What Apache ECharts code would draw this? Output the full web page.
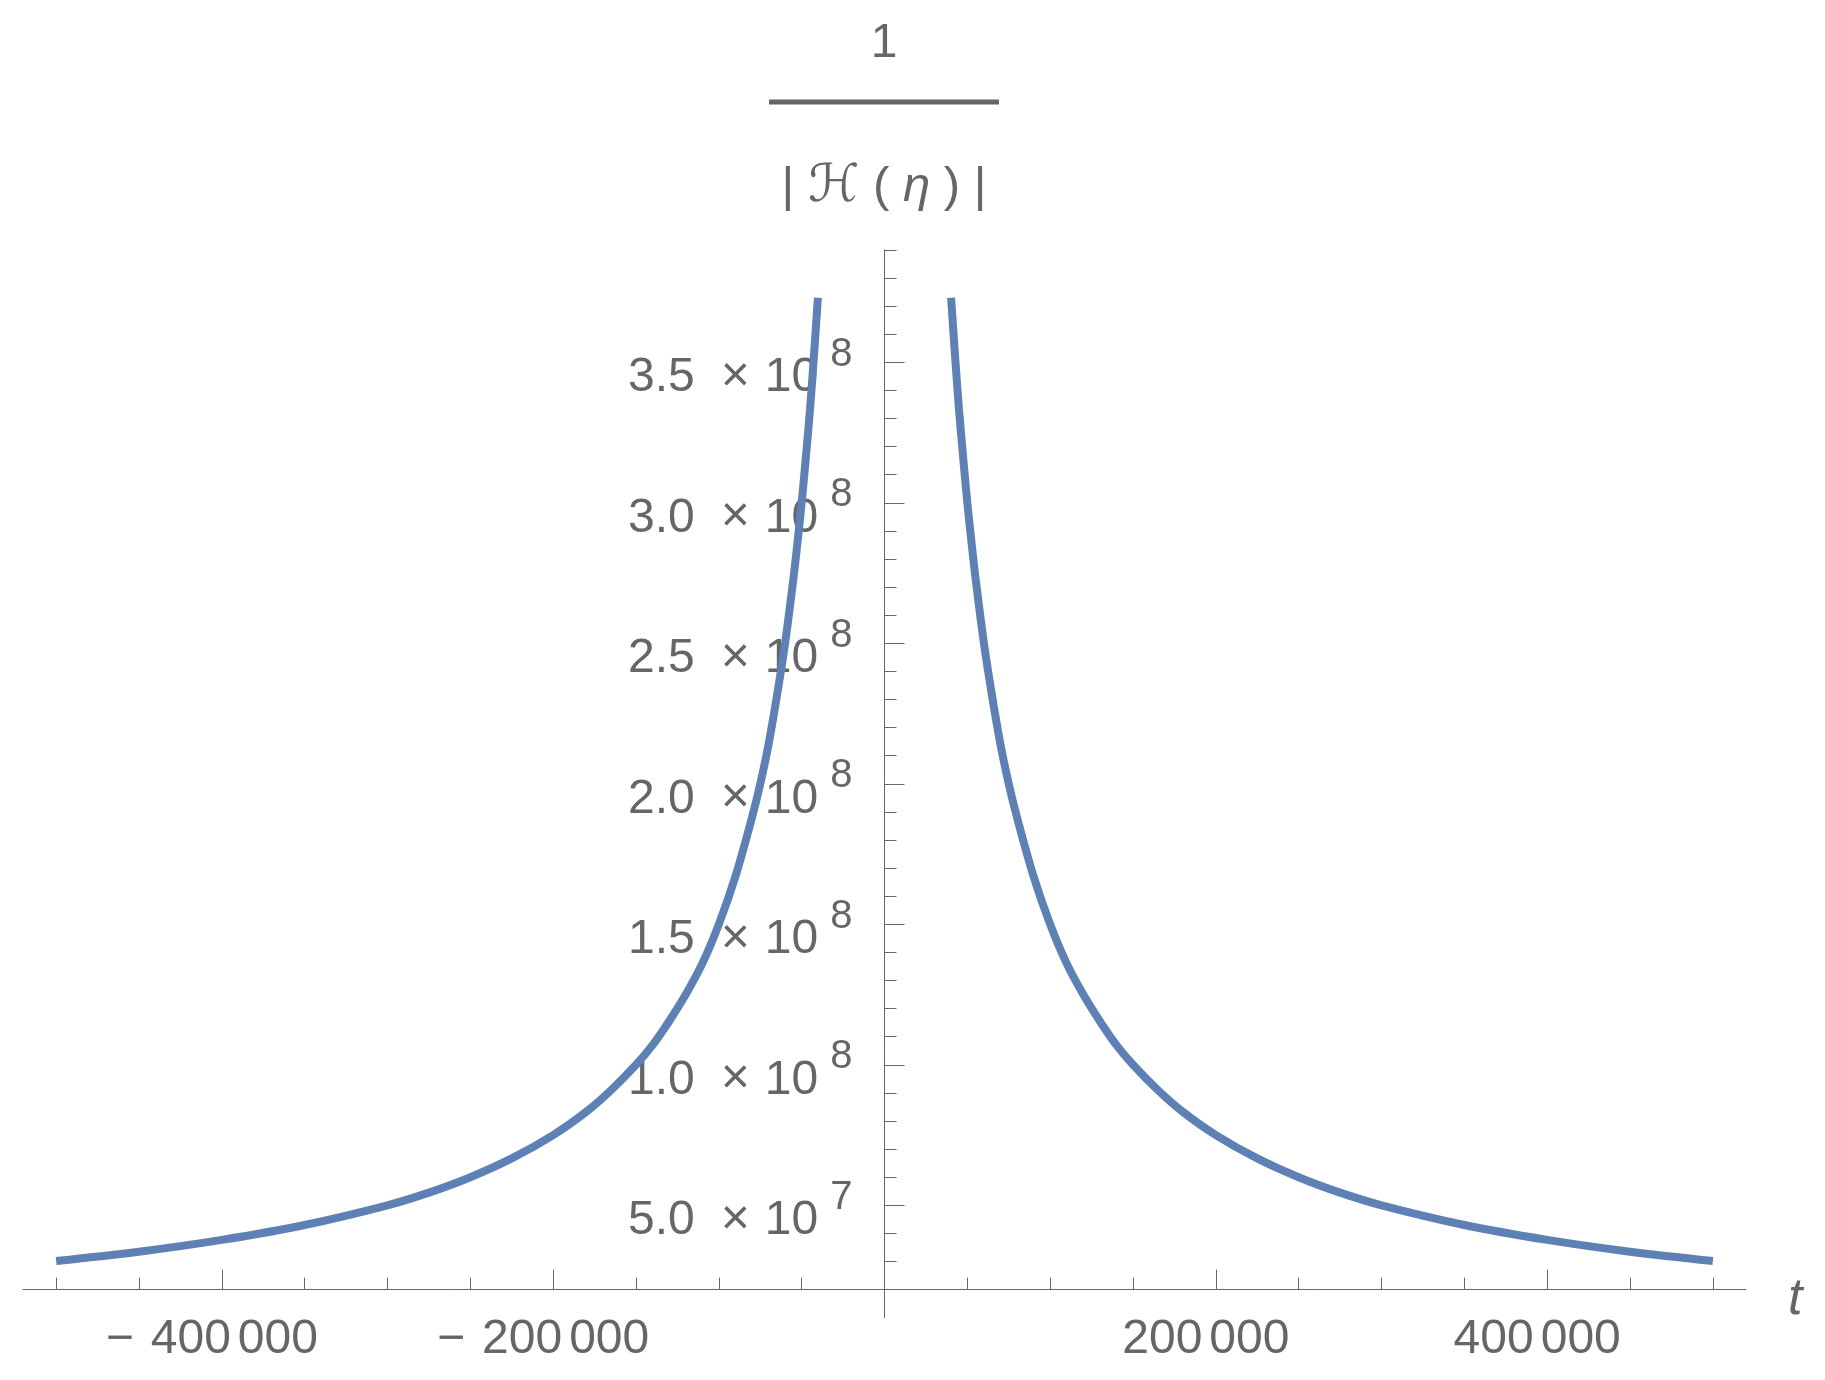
<!DOCTYPE html>
<html><head><meta charset="utf-8">
<script src="https://cdn.jsdelivr.net/npm/echarts@6/dist/echarts.min.js"></script>
<style>html,body{margin:0;padding:0;background:#fff}#c{width:1825px;height:1380px}</style>
</head><body><div id="c"></div><script>
// ---- data ----
const tNeg = [-500000, -450000, -400000, -350000, -300000, -275000, -250000, -225000, -200000, -180000, -165000, -150000, -140000, -130000, -120000, -110000, -100000, -90000, -80000, -75000, -70000, -65000, -60000, -55000, -52500, -50000, -47500, -45000, -42500, -40200];
const hNeg = [3.02e7, 3.35e7, 3.77e7, 4.3e7, 5.0e7, 5.45e7, 6.0e7, 6.67e7, 7.5e7, 8.33e7, 9.1e7, 1.0e8, 1.07e8, 1.155e8, 1.25e8, 1.36e8, 1.5e8, 1.67e8, 1.88e8, 2.0e8, 2.14e8, 2.31e8, 2.5e8, 2.73e8, 2.86e8, 3.0e8, 3.16e8, 3.33e8, 3.53e8, 3.73e8];
const tPos = [40200, 42500, 45000, 47500, 50000, 52500, 55000, 60000, 65000, 70000, 75000, 80000, 90000, 100000, 110000, 120000, 130000, 140000, 150000, 165000, 180000, 200000, 225000, 250000, 275000, 300000, 350000, 400000, 450000, 500000];
const hPos = [3.73e8, 3.53e8, 3.33e8, 3.16e8, 3.0e8, 2.86e8, 2.73e8, 2.5e8, 2.31e8, 2.14e8, 2.0e8, 1.88e8, 1.67e8, 1.5e8, 1.36e8, 1.25e8, 1.155e8, 1.07e8, 1.0e8, 9.1e7, 8.33e7, 7.5e7, 6.67e7, 6.0e7, 5.45e7, 5.0e7, 4.3e7, 3.77e7, 3.35e7, 3.02e7];

const xMajorTicks = [-400000, -200000, 200000, 400000];
const xTickLabels = ['−400 000', '−200 000', '200 000', '400 000'];
const xMinorTicks = [-500000, -450000, -350000, -300000, -250000, -150000, -100000, -50000, 50000, 100000, 150000, 250000, 300000, 350000, 450000, 500000];

const yMajorTicks = [5e7, 1e8, 1.5e8, 2e8, 2.5e8, 3e8, 3.5e8];
const yMantissa = ['5.0', '1.0', '1.5', '2.0', '2.5', '3.0', '3.5'];
const yExponent = ['7', '8', '8', '8', '8', '8', '8'];
const yMinorTicks = [3e7, 4e7, 6e7, 7e7, 8e7, 9e7, 1.1e8, 1.2e8, 1.3e8, 1.4e8, 1.6e8, 1.7e8, 1.8e8, 1.9e8, 2.1e8, 2.2e8, 2.3e8, 2.4e8, 2.6e8, 2.7e8, 2.8e8, 2.9e8, 3.1e8, 3.2e8, 3.3e8, 3.4e8, 3.6e8, 3.7e8, 3.8e8, 3.9e8];

const xName = 't';
const titleNum = '1';
const titleDen = ['| ', 'ℋ', ' ( ', 'η', ' ) |'];

// ---- styling ----
const GREY = '#666666';
const FONT = "'Liberation Sans', Arial, sans-serif";
const LINE = '#5E81B5';

function idxOf(arr, v) {
  for (let i = 0; i < arr.length; i++) if (Math.abs(arr[i] - v) < 1) return i;
  return -1;
}

const chart = echarts.init(document.getElementById('c'), null, {renderer: 'canvas'});
const X_MIN = -520000, X_MAX = 520000, Y_MIN = 1e7, Y_MAX = 3.9e8;

const option = {
  animation: false,
  backgroundColor: '#ffffff',
  title: {
    left: 884, top: 16, padding: 0, textAlign: 'center',
    text: '{one|' + titleNum + '}\n{bar| }\n{d|' + titleDen[0] + '}{h|' + titleDen[1] + '}{d|' + titleDen[2] + '}{e|' + titleDen[3] + '}{d|' + titleDen[4] + '}',
    textStyle: {
      fontWeight: 'normal',
      rich: {
        one: {fontSize: 48, lineHeight: 56, color: GREY, fontFamily: FONT, fontWeight: 'normal'},
        bar: {width: 230, height: 5, lineHeight: 60, backgroundColor: GREY, fontSize: 5},
        d: {fontSize: 49, lineHeight: 110, color: GREY, fontFamily: FONT, fontWeight: 'normal'},
        h: {fontSize: 52, lineHeight: 110, color: GREY, fontFamily: "'DejaVu Sans', sans-serif", fontStyle: 'italic', fontWeight: 'normal'},
        e: {fontSize: 49, lineHeight: 110, color: GREY, fontFamily: FONT, fontStyle: 'italic', fontWeight: 'normal'}
      }
    }
  },
  grid: {left: 23, right: 79, top: 249.9, bottom: 62.3, outerBoundsMode: 'none', containLabel: false},
  xAxis: [
    {
      type: 'value', min: X_MIN, max: X_MAX, position: 'bottom', offset: -28.1,
      axisLine: {show: true, onZero: false, lineStyle: {color: GREY, width: 1}},
      axisTick: {show: true, inside: true, length: 12, customValues: xMinorTicks, lineStyle: {color: GREY, width: 1}},
      axisLabel: {show: false},
      splitLine: {show: false}
    },
    {
      type: 'value', min: X_MIN, max: X_MAX, position: 'bottom', offset: -28.1,
      axisLine: {show: false, onZero: false},
      axisTick: {show: true, inside: true, length: 20, customValues: xMajorTicks, lineStyle: {color: GREY, width: 1}},
      axisLabel: {
        show: true, customValues: xMajorTicks, margin: 26, padding: [0, 20, 0, 0],
        formatter: function (v) {
          const i = idxOf(xMajorTicks, v);
          if (i < 0) return '';
          const s = xTickLabels[i];
          const neg = s.charAt(0) === '−';
          const parts = (neg ? s.slice(1) : s).split(' ');
          return (neg ? '{n|−}' : '') + '{g|' + parts[0] + '}{k|' + parts[1] + '}';
        },
        rich: {
          n: {fontSize: 48, color: GREY, fontFamily: FONT, padding: [0, 17, 0, 0]},
          g: {fontSize: 48, color: GREY, fontFamily: FONT},
          k: {fontSize: 48, color: GREY, fontFamily: FONT, padding: [0, 0, 0, 7]}
        }
      },
      splitLine: {show: false},
      name: '{tn|' + xName + '}', nameLocation: 'end', nameGap: 42,
      nameTextStyle: {
        verticalAlign: 'middle',
        rich: {
          tn: {fontSize: 52, lineHeight: 72, verticalAlign: 'bottom', color: GREY, fontFamily: FONT, fontStyle: 'italic'},
          sp: {fontSize: 10, lineHeight: 72}
        }
      }
    }
  ],
  yAxis: [
    {
      type: 'value', min: Y_MIN, max: Y_MAX, position: 'left', offset: -861.5,
      axisLine: {show: true, onZero: false, lineStyle: {color: GREY, width: 1}},
      axisTick: {show: true, inside: true, length: 12, customValues: yMinorTicks, lineStyle: {color: GREY, width: 1}},
      axisLabel: {show: false},
      splitLine: {show: false}
    },
    {
      type: 'value', min: Y_MIN, max: Y_MAX, position: 'left', offset: -861.5,
      axisLine: {show: false, onZero: false},
      axisTick: {show: true, inside: true, length: 20, customValues: yMajorTicks, lineStyle: {color: GREY, width: 1}},
      axisLabel: {
        show: true, customValues: yMajorTicks, margin: 32, padding: [12, 0, 0, 0],
        formatter: function (v) {
          const i = idxOf(yMajorTicks, v);
          if (i < 0) return '';
          return '{m|' + yMantissa[i] + '}{x|×}{m|10}{s|' + yExponent[i] + '}';
        },
        rich: {
          m: {fontSize: 48, lineHeight: 67, verticalAlign: 'bottom', color: GREY, fontFamily: FONT},
          x: {fontSize: 50, lineHeight: 67, verticalAlign: 'bottom', color: GREY, fontFamily: FONT, padding: [0, 15, 0, 26]},
          s: {fontSize: 40, lineHeight: 40, verticalAlign: 'top', color: GREY, fontFamily: FONT, padding: [0, 0, 0, 12]}
        }
      },
      splitLine: {show: false}
    }
  ],
  series: [
    {
      type: 'line', xAxisIndex: 0, yAxisIndex: 0, showSymbol: false, smooth: 0.35,
      data: tNeg.map((t, i) => [t, hNeg[i]]),
      lineStyle: {color: LINE, width: 8, cap: 'butt'}
    },
    {
      type: 'line', xAxisIndex: 0, yAxisIndex: 0, showSymbol: false, smooth: 0.35,
      data: tPos.map((t, i) => [t, hPos[i]]),
      lineStyle: {color: LINE, width: 8, cap: 'butt'}
    }
  ]
};
chart.setOption(option);
</script></body></html>
